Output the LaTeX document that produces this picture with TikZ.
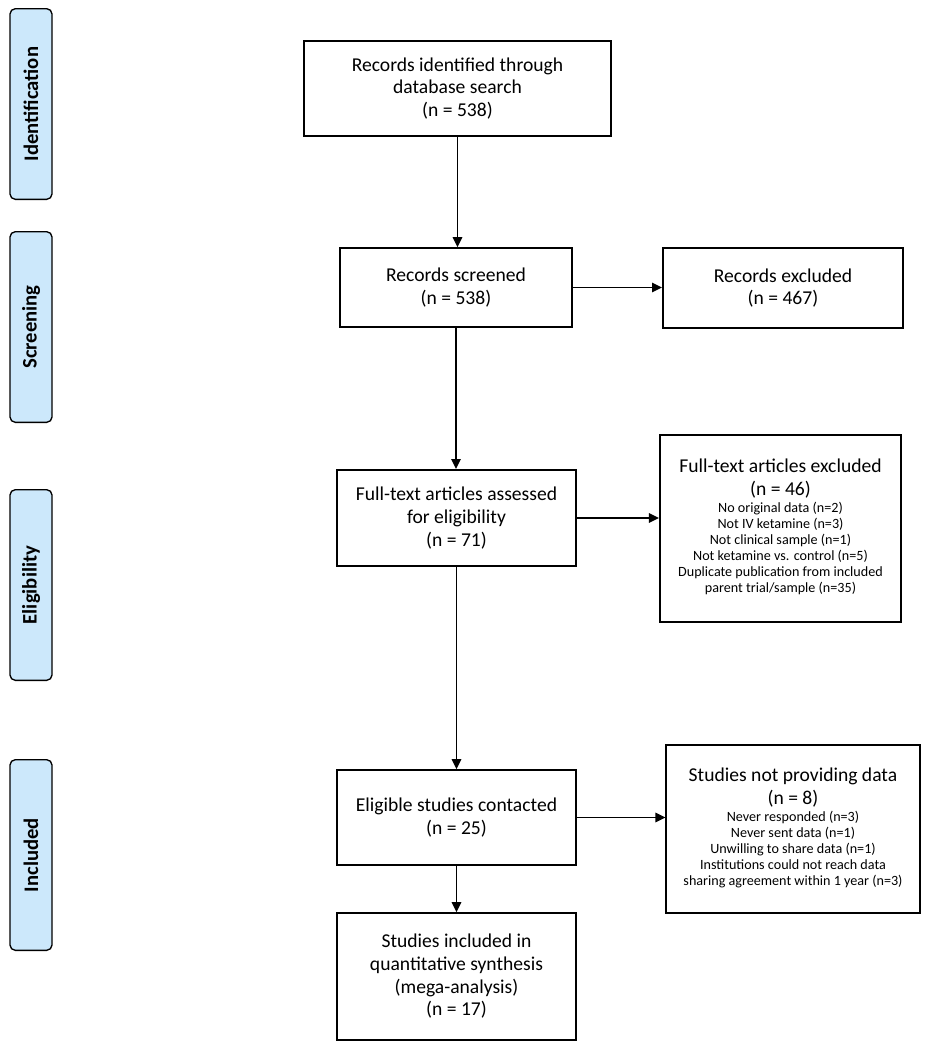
\documentclass[tikz,border=0pt]{standalone}
\usepackage{fontspec}
\setmainfont{Carlito}
\usepackage{tikz}
\usetikzlibrary{arrows.meta}

\definecolor{phaseblue}{HTML}{CCE8FB}
\newcommand{\smalltext}{\fontsize{10.6}{12}\selectfont}

\begin{document}
\begin{tikzpicture}[x=0.75pt, y=-0.75pt, >={Triangle[length=7.5pt,width=7pt]}, line width=1.4pt,
    box/.style={draw, align=center, inner sep=2pt, font=\fontsize{14.7}{17}\selectfont},
    phase/.style={draw, line width=1pt, rounded corners=4pt, fill=phaseblue, rotate=90, minimum width=143pt,
        minimum height=31.5pt, font=\bfseries\fontsize{15.5}{17}\selectfont}]
    \useasboundingbox (0,0) rectangle (929,1050);

    % Phases on the left
    \node [phase] (ident)  at (31,104) {Identification};
    \node [phase] (screen) at (31,327) {Screening};
    \node [phase] (elig)   at (31,585) {Eligibility};
    \node [phase] (incl)   at (31,855) {Included};

    % Nodes in the main column
    \node [box, minimum width=230pt, minimum height=71pt] (records)  at (457.5,88.5)
        {Records identified through\\database search\\(n = 538)};
    \node [box, minimum width=174pt, minimum height=59pt] (screened) at (456,287.5)
        {Records screened\\(n = 538)};
    \node [box, minimum width=179pt, minimum height=72pt] (fulltext) at (456.5,518)
        {Full-text articles assessed\\for eligibility\\(n = 71)};
    \node [box, minimum width=179pt, minimum height=71pt] (contact)  at (456.5,817.5)
        {Eligible studies contacted\\(n = 25)};
    \node [box, minimum width=179pt, minimum height=95pt] (synth)    at (456.5,976.5)
        {Studies included in\\quantitative synthesis\\(mega-analysis)\\(n = 17)};

    % Nodes on the right
    \node [box, minimum width=180pt, minimum height=60pt] (excl)     at (783,288)
        {Records excluded\\(n = 467)};
    \node [box, minimum width=181pt, minimum height=140pt] (ftexcl)  at (780.5,528.5)
        {Full-text articles excluded\\(n = 46)\\[-4pt]
         {\smalltext\begin{tabular}[t]{@{}c@{}}No original data (n=2)\\Not IV ketamine (n=3)\\Not clinical sample (n=1)\\
          Not ketamine vs. control (n=5)\\Duplicate publication from included\\parent trial/sample (n=35)\end{tabular}}};
    \node [box, minimum width=190pt, minimum height=126pt] (nodata)  at (793,829)
        {Studies not providing data\\(n = 8)\\[-4pt]
         {\smalltext\begin{tabular}[t]{@{}c@{}}Never responded (n=3)\\Never sent data (n=1)\\Unwilling to share data (n=1)\\
          Institutions could not reach data\\sharing agreement within 1 year (n=3)\end{tabular}}};

    % Paths
    \draw [->] (records)  -- (records.south |- screened.north);
    \draw [->] (screened) -- (screened.south |- fulltext.north);
    \draw [->] (fulltext) -- (fulltext.south |- contact.north);
    \draw [->] (contact)  -- (contact.south |- synth.north);
    \draw [->] (screened.east) -- (screened.east -| excl.west);
    \draw [->] (fulltext.east) -- (fulltext.east -| ftexcl.west);
    \draw [->] (contact.east)  -- (contact.east -| nodata.west);

\end{tikzpicture}
\end{document}
